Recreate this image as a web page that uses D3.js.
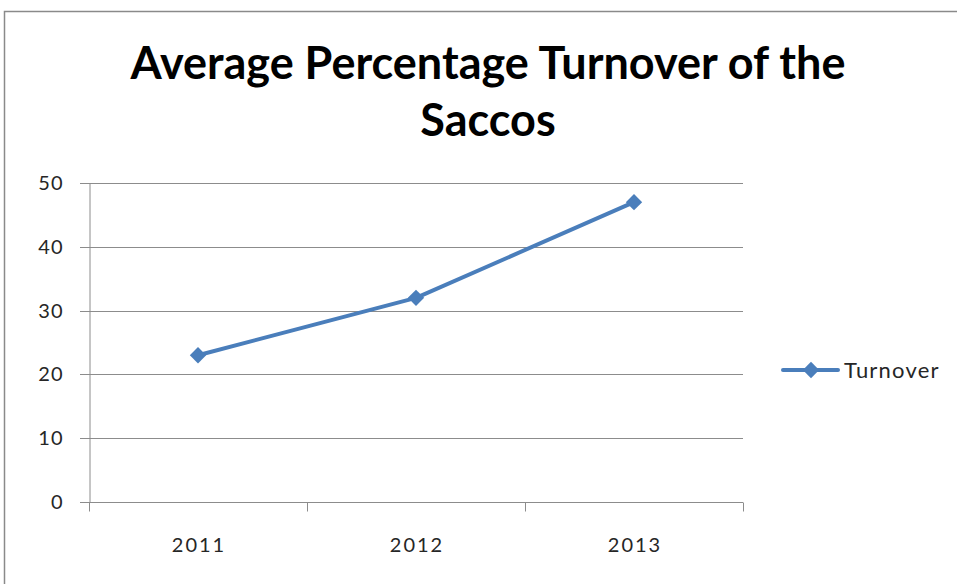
<!DOCTYPE html>
<html>
<head>
<meta charset="utf-8">
<script src="https://cdn.jsdelivr.net/npm/d3@7"></script>
<style>
  body { margin: 0; background: #fff; }
  text { font-family: Lato, "Open Sans", sans-serif; }
</style>
</head>
<body>
<div id="chart"></div>
<script>
// chart data
var years = ["2011", "2012", "2013"];
var turnover = [23, 32, 47];
var yTicks = [0, 10, 20, 30, 40, 50];
var seriesName = "Turnover";

var width = 957, height = 584;
var lineColor = "#4a7ebb";
var gridColor = "#8c8c8c";

var svg = d3.select("#chart").append("svg")
  .attr("width", width)
  .attr("height", height);

// outer frame of the chart area
svg.append("rect")
  .attr("x", 4.5).attr("y", 11.5)
  .attr("width", 980).attr("height", 600)
  .attr("fill", "#fff")
  .attr("stroke", "#8a8a8a")
  .attr("stroke-width", 1.5);

// title
var title = svg.append("text")
  .attr("text-anchor", "middle")
  .attr("font-weight", "bold")
  .attr("font-size", 45)
  .attr("fill", "#000");
title.append("tspan").attr("x", 488).attr("y", 79).text("Average Percentage Turnover of the");
title.append("tspan").attr("x", 488).attr("y", 136).text("Saccos");

var plotLeft = 89, plotRight = 743, plotTop = 183, plotBottom = 502;

var x = d3.scaleBand().domain(years).range([plotLeft, plotRight]);
var y = d3.scaleLinear().domain([0, 50]).range([plotBottom, plotTop]);

// horizontal gridlines
svg.append("g")
  .selectAll("line")
  .data(yTicks)
  .enter().append("line")
  .attr("x1", plotLeft - 9).attr("x2", plotRight)
  .attr("y1", function(d) { return Math.round(y(d)) + 0.5; })
  .attr("y2", function(d) { return Math.round(y(d)) + 0.5; })
  .attr("stroke", gridColor).attr("stroke-width", 1);

// y axis
var yAxis = d3.axisLeft(y).tickValues(yTicks).tickSize(0).tickPadding(26);
var yG = svg.append("g")
  .attr("transform", "translate(" + (plotLeft + 0.5) + ",0)")
  .call(yAxis);
yG.select(".domain").attr("stroke", gridColor);
yG.selectAll("text")
  .attr("font-size", 20)
  .attr("font-family", "Lato, sans-serif")
  .attr("letter-spacing", 1)
  .attr("fill", "#262626");

// x axis with ticks at band edges
var xG = svg.append("g")
  .attr("transform", "translate(0," + (plotBottom + 0.5) + ")");
xG.append("line")
  .attr("x1", plotLeft).attr("x2", plotRight)
  .attr("stroke", gridColor);
var edges = years.map(function(d) { return x(d); }).concat([plotRight]);
xG.selectAll("line.tick")
  .data(edges)
  .enter().append("line")
  .attr("class", "tick")
  .attr("x1", function(d) { return Math.round(d) + 0.5; })
  .attr("x2", function(d) { return Math.round(d) + 0.5; })
  .attr("y1", 0).attr("y2", 9)
  .attr("stroke", gridColor);
xG.selectAll("text")
  .data(years)
  .enter().append("text")
  .attr("x", function(d) { return x(d) + x.bandwidth() / 2 + 1; })
  .attr("y", 49)
  .attr("text-anchor", "middle")
  .attr("font-size", 20)
  .attr("letter-spacing", 2)
  .attr("fill", "#262626")
  .text(function(d) { return d; });

// the line
var pts = years.map(function(d, i) { return [x(d) + x.bandwidth() / 2, y(turnover[i])]; });
svg.append("path")
  .attr("d", d3.line()(pts))
  .attr("fill", "none")
  .attr("stroke", lineColor)
  .attr("stroke-width", 4)
  .attr("stroke-linejoin", "round");

var diamond = d3.symbol().type(d3.symbolDiamond2).size(170);
svg.append("g")
  .selectAll("path")
  .data(pts)
  .enter().append("path")
  .attr("d", diamond)
  .attr("transform", function(d) { return "translate(" + d[0] + "," + d[1] + ")"; })
  .attr("fill", lineColor);

// legend
var lg = svg.append("g").attr("transform", "translate(783,370)");
lg.append("line")
  .attr("x1", 0).attr("x2", 55)
  .attr("stroke", lineColor).attr("stroke-width", 4)
  .attr("stroke-linecap", "round");
lg.append("path")
  .attr("d", diamond)
  .attr("transform", "translate(28,0)")
  .attr("fill", lineColor);
lg.append("text")
  .attr("x", 61).attr("y", 8)
  .attr("font-size", 22)
  .attr("letter-spacing", 1.2)
  .attr("fill", "#262626")
  .text(seriesName);
</script>
</body>
</html>
